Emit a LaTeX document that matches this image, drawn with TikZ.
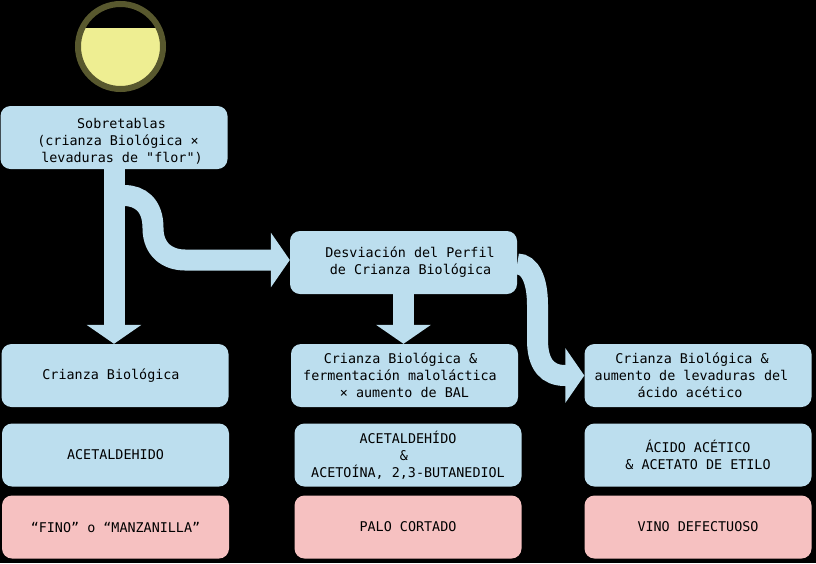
\documentclass[tikz,border=0pt]{standalone}
\usepackage{fontspec}
\setmonofont{DejaVu Sans Mono}
\usepackage{xcolor}
\usetikzlibrary{calc,arrows.meta}
\definecolor{azul}{RGB}{188,222,238}
\definecolor{rosa}{RGB}{246,193,193}
\definecolor{oliva}{RGB}{88,88,46}
\definecolor{vino}{RGB}{238,238,146}
\newcommand{\corre}[1]{\hspace*{#1pt}}

\begin{document}
\begin{tikzpicture}[x=1pt,y=-1pt,font=\ttfamily\fontsize{13.4}{17}\selectfont,
      caja/.style={text width=227pt,minimum height=63pt,rounded corners=10pt,
        align=flush center,inner sep=0pt,text=black},
      etapa/.style={caja,fill=azul},
      final/.style={caja,fill=rosa},
      flecha/.style={draw=azul,line width=21pt,
        -{Triangle[length=19pt,width=54pt,fill=azul]}}]
    \useasboundingbox (0,0) rectangle (816,563);
    \fill[black] (0,0) rectangle (816,563);
    % bota
    \begin{scope}
      \clip (120.5,46.5) circle (40);
      \fill[vino] (70,28) rectangle (170,95);
    \end{scope}
    \node[circle,draw=oliva,line width=6pt,minimum size=85pt,inner sep=0pt] (bota) at (120.5,46.5) {};
    % fila superior
    \node[etapa,text height=18pt] (sobre) at (114,137.5) {\corre{15}Sobretablas\\\corre{8}(crianza Biológica ×\\\corre{16}levaduras de "flor")};
    \node[etapa] (desv) at (403.5,262.5) {\corre{13}Desviación del Perfil\\\corre{14}de Crianza Biológica};
    % tres columnas
    \node[etapa] (biol) at (115,375.5) {\corre{-8}Crianza Biológica};
    \node[etapa] (malo) at (404.5,375.5) {\corre{-8}Crianza Biológica \&\\\corre{-9}fermentación maloláctica\\× aumento de BAL};
    \node[etapa] (acet) at (698,375.5) {\corre{-12}Crianza Biológica \&\\\corre{-13}aumento de levaduras del\\\corre{-16}ácido acético};
    \node[etapa] (aldeh) at (115.5,455) {ACETALDEHIDO};
    \node[etapa] (butan) at (408,455) {ACETALDEHÍDO\\\corre{-8}\&\\ACETOÍNA, 2,3-BUTANEDIOL};
    \node[etapa] (etilo) at (698,455) {ÁCIDO ACÉTICO\\\& ACETATO DE ETILO};
    \node[final] (fino) at (115.5,527) {“FINO” o “MANZANILLA”};
    \node[final] (palo) at (408,527) {PALO CORTADO};
    \node[final] (defecto) at (698,527) {VINO DEFECTUOSO};
    % flechas
    \draw[flecha] (sobre.south) -- (sobre.south |- biol.north);
    \draw[flecha] (desv.south) -- (desv.south |- malo.north);
    \coordinate (rama) at (114,195.5);
    \draw[flecha] (rama) -- (124,195.5) .. controls (140,195.5) and (153,205) .. (153,228)
      .. controls (153,250) and (168,260) .. (185,260) -- ($(desv.west)+(0,-2.5)$);
    \draw[flecha] ($(desv.east)+(0,1.5)$) .. controls (530,264) and (537.5,280) .. (537.5,305)
      -- (537.5,340) .. controls (537.5,365) and (548,375.5) .. (565,375.5)
      -- (acet.west);
  \end{tikzpicture}
\end{document}
